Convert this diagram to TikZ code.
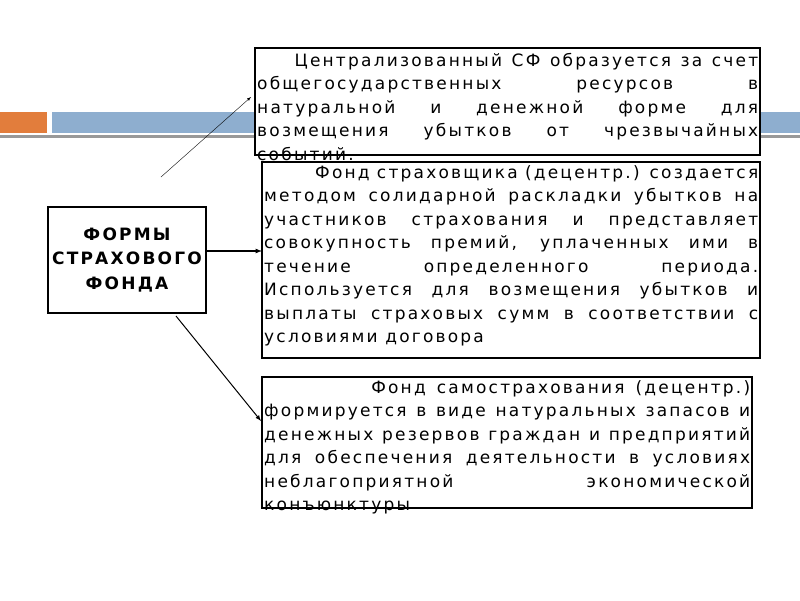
\documentclass[tikz,border=0pt]{standalone}
\usepackage{fontspec}
\setmainfont[LetterSpace=13]{DejaVu Sans}
\newcommand{\jl}[2]{\makebox[#1][s]{#2}\\}
\begin{document}
\begin{tikzpicture}[x=1pt,y=-1pt,
  frame/.style={draw,line width=1.5pt},
  txt/.style={anchor=north west,inner sep=0pt,align=left,font=\fontsize{17}{23.5}\selectfont},
  conn/.style={-latex}]
\useasboundingbox (0,0) rectangle (800,600);
\fill[fill={rgb,255:red,226;green,125;blue,60}] (0,112) rectangle (47,133);
\fill[fill={rgb,255:red,142;green,174;blue,207}] (52,112) rectangle (800,133);
\fill[gray!80] (0,135) rectangle (800,138);
\node[frame,minimum width=158,minimum height=106,font=\bfseries\fontsize{17}{24.5}\selectfont,align=center,inner sep=0pt] (f) at (127,260) {ФОРМЫ\\СТРАХОВОГО\\ФОНДА};
\draw[frame,fill=white] (255,48) rectangle (760,155);
\node[txt] (t1) at (257,53) {\jl{501pt}{\hspace*{2.2em}Централизованный СФ образуется за счет}\jl{501pt}{общегосударственных ресурсов в}\jl{501pt}{натуральной и денежной форме для}\jl{501pt}{возмещения убытков от чрезвычайных}событий.};
\draw[frame,fill=white] (262,162) rectangle (760,358);
\node[txt] (t2) at (264,165) {\jl{494pt}{\hspace*{3em}Фонд страховщика (децентр.) создается}\jl{494pt}{методом солидарной раскладки убытков на}\jl{494pt}{участников страхования и представляет}\jl{494pt}{совокупность премий, уплаченных ими в}\jl{494pt}{течение определенного периода.}\jl{494pt}{Используется для возмещения убытков и}\jl{494pt}{выплаты страховых сумм в соответствии с}условиями договора};
\draw[frame] (262,377) rectangle (752,508);
\node[txt] (t3) at (264,380) {\jl{486pt}{\hspace*{6.3em}Фонд самострахования (децентр.)}\jl{486pt}{формируется в виде натуральных запасов и}\jl{486pt}{денежных резервов граждан и предприятий}\jl{486pt}{для обеспечения деятельности в условиях}\jl{486pt}{неблагоприятной экономической}конъюнктуры};
\coordinate (a1) at (161,177);
\coordinate (e1) at (251,97);
\coordinate (e2) at (262,251);
\coordinate (a3) at (176,316);
\coordinate (e3) at (261,421);
\draw[conn,thin] (a1) -- (e1);
\draw[conn,line width=1.2pt] (f.east|-e2) -- (e2);
\draw[conn,line width=1pt] (a3) -- (e3);
\end{tikzpicture}
\end{document}
